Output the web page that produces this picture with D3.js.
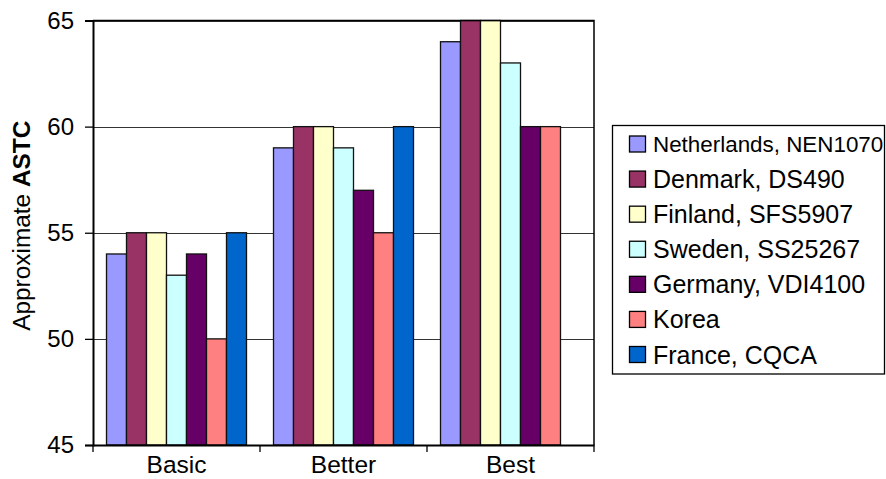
<!DOCTYPE html>
<html><head><meta charset="utf-8">
<script src="https://cdn.jsdelivr.net/npm/d3@7"></script>
<style>body{margin:0;background:#fff}svg{display:block;font-family:"Liberation Sans",Arial,sans-serif}</style>
</head><body><svg id="c" width="886" height="479"></svg>
<script>
const categories = ["Basic", "Better", "Best"];
const seriesNames = ["Netherlands, NEN1070", "Denmark, DS490", "Finland, SFS5907", "Sweden, SS25267", "Germany, VDI4100", "Korea", "France, CQCA"];
const seriesColors = ["#9999FF", "#993366", "#FFFFCC", "#CCFFFF", "#660066", "#FF8080", "#0066CC"];
const netherlands = [54, 59, 64];
const denmark = [55, 60, 65];
const finland = [55, 60, 65];
const sweden = [53, 59, 63];
const germany = [54, 57, 60];
const korea = [50, 55, 60];
const france = [55, 60, null];
const yTicks = [45, 50, 55, 60, 65];
const yTitle = "Approximate ";
const yTitleBold = "ASTC";

const values = [netherlands, denmark, finland, sweden, germany, korea, france];
const svg = d3.select("#c");
const L = 93, R = 594, T = 20.5, B = 445;
const x0 = d3.scaleBand().domain(categories).range([L, R]).paddingInner(0).paddingOuter(0);
const x1 = d3.scaleBand().domain(seriesNames).range([0, x0.bandwidth()]).paddingInner(0).paddingOuter(0.675);
const y = d3.scaleLinear().domain([45, 65]).range([B, T]);

// gridlines
svg.append("g").selectAll("line").data(yTicks.filter(t => t > 45)).join("line")
  .attr("x1", L).attr("x2", R).attr("y1", d => Math.round(y(d)) + 0.5).attr("y2", d => Math.round(y(d)) + 0.5)
  .attr("stroke", "#333").attr("stroke-width", 1);

// bars
const rows = [];
seriesNames.forEach((s, i) => categories.forEach((c, j) => {
  if (values[i][j] != null) rows.push({s, c, v: values[i][j], col: seriesColors[i]});
}));
svg.append("g").selectAll("rect").data(rows).join("rect")
  .attr("x", d => x0(d.c) + x1(d.s))
  .attr("y", d => y(d.v))
  .attr("width", x1.bandwidth())
  .attr("height", d => y(45) - y(d.v))
  .attr("fill", d => d.col).attr("stroke", "#111").attr("stroke-width", 1.3);

// plot border top/right
svg.append("path").attr("d", `M${L},${T}H${R}V${B}`).attr("fill", "none").attr("stroke", "#000").attr("stroke-width", 1.5);

// y axis
const ya = svg.append("g").attr("transform", `translate(${L},0)`)
  .call(d3.axisLeft(y).tickValues(yTicks).tickSize(8).tickPadding(11).tickFormat(d3.format("d")));
ya.select(".domain").attr("stroke", "#000").attr("stroke-width", 2);
ya.selectAll(".tick line").attr("stroke", "#000").attr("stroke-width", 1.3);
ya.selectAll("text").attr("font-size", 24).attr("font-family", "Liberation Sans, Arial, sans-serif").attr("fill", "#000");

// x axis
const xa = svg.append("g").attr("transform", `translate(0,${B})`)
  .call(d3.axisBottom(x0).tickSize(0).tickPadding(11));
xa.select(".domain").attr("stroke", "#000").attr("stroke-width", 2);
xa.selectAll("text").attr("font-size", 24.5).attr("font-family", "Liberation Sans, Arial, sans-serif").attr("fill", "#000");
const bounds = categories.map(c => x0(c)).concat([R]);
svg.append("g").selectAll("line").data(bounds).join("line")
  .attr("x1", d => d).attr("x2", d => d).attr("y1", B).attr("y2", B + 7)
  .attr("stroke", "#000").attr("stroke-width", 1.3);

// y title
const yt = svg.append("text").attr("transform", `translate(30,${(T + B) / 2 - 7}) rotate(-90)`)
  .attr("text-anchor", "middle").attr("font-size", 24.4).attr("fill", "#000");
yt.append("tspan").text(yTitle);
yt.append("tspan").attr("font-weight", "bold").text(yTitleBold);

// legend
const lg = svg.append("g");
lg.append("rect").attr("x", 612.5).attr("y", 125.5).attr("width", 272).attr("height", 248.5)
  .attr("fill", "#fff").attr("stroke", "#000").attr("stroke-width", 1.3);
const ly = d3.scalePoint().domain(seriesNames).range([144, 354.5]);
const items = lg.selectAll("g.item").data(seriesNames).join("g").attr("class", "item")
  .attr("transform", d => `translate(0,${ly(d)})`);
items.append("rect").attr("x", 629.5).attr("y", -8).attr("width", 16).attr("height", 16)
  .attr("fill", (d, i) => seriesColors[i]).attr("stroke", "#000").attr("stroke-width", 1.3);
items.append("text").attr("x", 653).attr("dy", "0.36em")
  .attr("font-size", (d, i) => i === 0 ? 22.4 : 25).attr("fill", "#000").text(d => d);
</script></body></html>
